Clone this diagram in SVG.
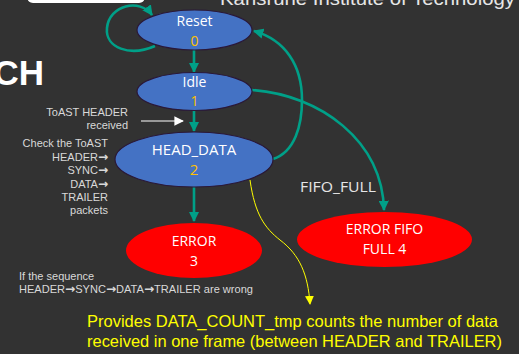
<svg xmlns="http://www.w3.org/2000/svg" width="519" height="354" viewBox="0 0 519 354">
<defs>
<style>
.bg{fill:#323232}
.st{stroke:#2a1838;stroke-width:1.2}
.blue{fill:#4472C4}
.red{fill:#FF0000;stroke:none}
.nt{font-family:"Open Sans","Noto Sans",sans-serif;fill:#ffffff;text-anchor:middle}
.num{font-family:"Open Sans","Noto Sans",sans-serif;fill:#FFC000;text-anchor:middle}
.c{fill:none;stroke:#00A088;stroke-width:2.6}
.note{font-family:"Liberation Sans",Arial,sans-serif;fill:#d9d9d9;font-size:11px}
.ar{font-family:"DejaVu Sans",sans-serif;font-size:12px;font-weight:bold}
.ylw{font-family:"Liberation Sans",Arial,sans-serif;fill:#FFFF00;font-size:16.5px}
</style>
<marker id="ah" viewBox="0 0 10 10" refX="9" refY="5" markerWidth="4" markerHeight="4" orient="auto" markerUnits="strokeWidth">
<path d="M0,0 L10,5 L0,10 z" fill="#00A088"/>
</marker>
<marker id="ay" viewBox="0 0 10 10" refX="9" refY="5" markerWidth="9" markerHeight="9" orient="auto" markerUnits="strokeWidth">
<path d="M0,0 L10,5 L0,10 z" fill="#FFFF00"/>
</marker>
<marker id="aw" viewBox="0 0 10 10" refX="9" refY="5" markerWidth="8" markerHeight="8" orient="auto" markerUnits="strokeWidth">
<path d="M0,0 L10,5 L0,10 z" fill="#ffffff"/>
</marker>
</defs>
<rect class="bg" x="0" y="0" width="519" height="354"/>
<rect x="27" y="-20" width="118" height="23" rx="6" fill="#ffffff"/>
<text x="220" y="5" font-family="Liberation Sans,Arial,sans-serif" font-size="19" fill="#e6e6e6" textLength="295" lengthAdjust="spacingAndGlyphs">Karlsruhe Institute of Technology</text>
<text x="44" y="85" font-family="Liberation Sans,Arial,sans-serif" font-weight="bold" font-size="35" fill="#ffffff" text-anchor="end">CH</text>

<g id="connectors">
<path class="c" d="M194,50 L194,72" marker-end="url(#ah)"/>
<path class="c" d="M194,110 L194,131" marker-end="url(#ah)"/>
<path class="c" d="M194,187 L194,221" marker-end="url(#ah)"/>
<path class="c" d="M155,46 C130,57 105,48 107,28 C109,5 140,-2 152,15" marker-end="url(#ah)"/>
<path class="c" d="M273,159 C295,152 302,125 302,100 C302,65 285,40 254,31" marker-end="url(#ah)"/>
<path class="c" d="M252,90 C320,95 382,140 384,210" marker-end="url(#ah)"/>
<path d="M250,180 C255,215 265,228 280,240 C300,255 308,275 310,304" fill="none" stroke="#FFFF00" stroke-width="1" marker-end="url(#ay)"/>
<path d="M141,121 L183,121" fill="none" stroke="#ffffff" stroke-width="1.2" marker-end="url(#aw)"/>
</g>

<g id="reset">
<ellipse class="blue st" cx="194.5" cy="30" rx="57.5" ry="20"/>
<text class="nt" x="194.5" y="26" font-size="14">Reset</text>
<text class="num" x="194.5" y="46" font-size="14">0</text>
</g>
<g id="idle">
<ellipse class="blue st" cx="194.5" cy="91.5" rx="57.5" ry="19"/>
<text class="nt" x="194.5" y="87" font-size="14">Idle</text>
<text class="num" x="194.5" y="106" font-size="14">1</text>
</g>
<g id="head_data">
<ellipse class="blue st" cx="194" cy="159.5" rx="79" ry="27.5"/>
<text class="nt" x="194" y="155" font-size="15">HEAD_DATA</text>
<text class="num" x="194" y="175" font-size="15">2</text>
</g>
<g id="error3">
<ellipse class="red" cx="194" cy="250.5" rx="68" ry="27.5"/>
<text class="nt" x="194" y="246" font-size="14">ERROR</text>
<text class="nt" x="194" y="266" font-size="14">3</text>
</g>
<g id="error4">
<ellipse class="red" cx="384.5" cy="239.5" rx="87.5" ry="27.5"/>
<text class="nt" x="384.5" y="234" font-size="14">ERROR FIFO</text>
<text class="nt" x="384.5" y="254" font-size="14">FULL 4</text>
</g>

<g id="labels">
<text class="note" x="128" y="116" text-anchor="end">ToAST HEADER</text>
<text class="note" x="128" y="129" text-anchor="end">received</text>
<text class="note" x="108" y="147" text-anchor="end">Check the ToAST</text>
<text class="note" x="108" y="161" text-anchor="end">HEADER<tspan class="ar">→</tspan></text>
<text class="note" x="108" y="174" text-anchor="end">SYNC<tspan class="ar">→</tspan></text>
<text class="note" x="108" y="187.5" text-anchor="end">DATA<tspan class="ar">→</tspan></text>
<text class="note" x="108" y="201" text-anchor="end">TRAILER</text>
<text class="note" x="108" y="214" text-anchor="end">packets</text>
<text class="note" x="19" y="280">If the sequence</text>
<text class="note" x="19" y="293" textLength="234" lengthAdjust="spacingAndGlyphs">HEADER<tspan class="ar">→</tspan>SYNC<tspan class="ar">→</tspan>DATA<tspan class="ar">→</tspan>TRAILER are wrong</text>
<text x="300" y="192" font-family="Open Sans,Noto Sans,sans-serif" font-size="14" fill="#e6e6e6" textLength="76" lengthAdjust="spacingAndGlyphs">FIFO_FULL</text>
<text class="ylw" x="87" y="327" textLength="411" lengthAdjust="spacingAndGlyphs">Provides DATA_COUNT_tmp counts the number of data</text>
<text class="ylw" x="87" y="347" textLength="415" lengthAdjust="spacingAndGlyphs">received in one frame (between HEADER and TRAILER)</text>
</g>
</svg>
